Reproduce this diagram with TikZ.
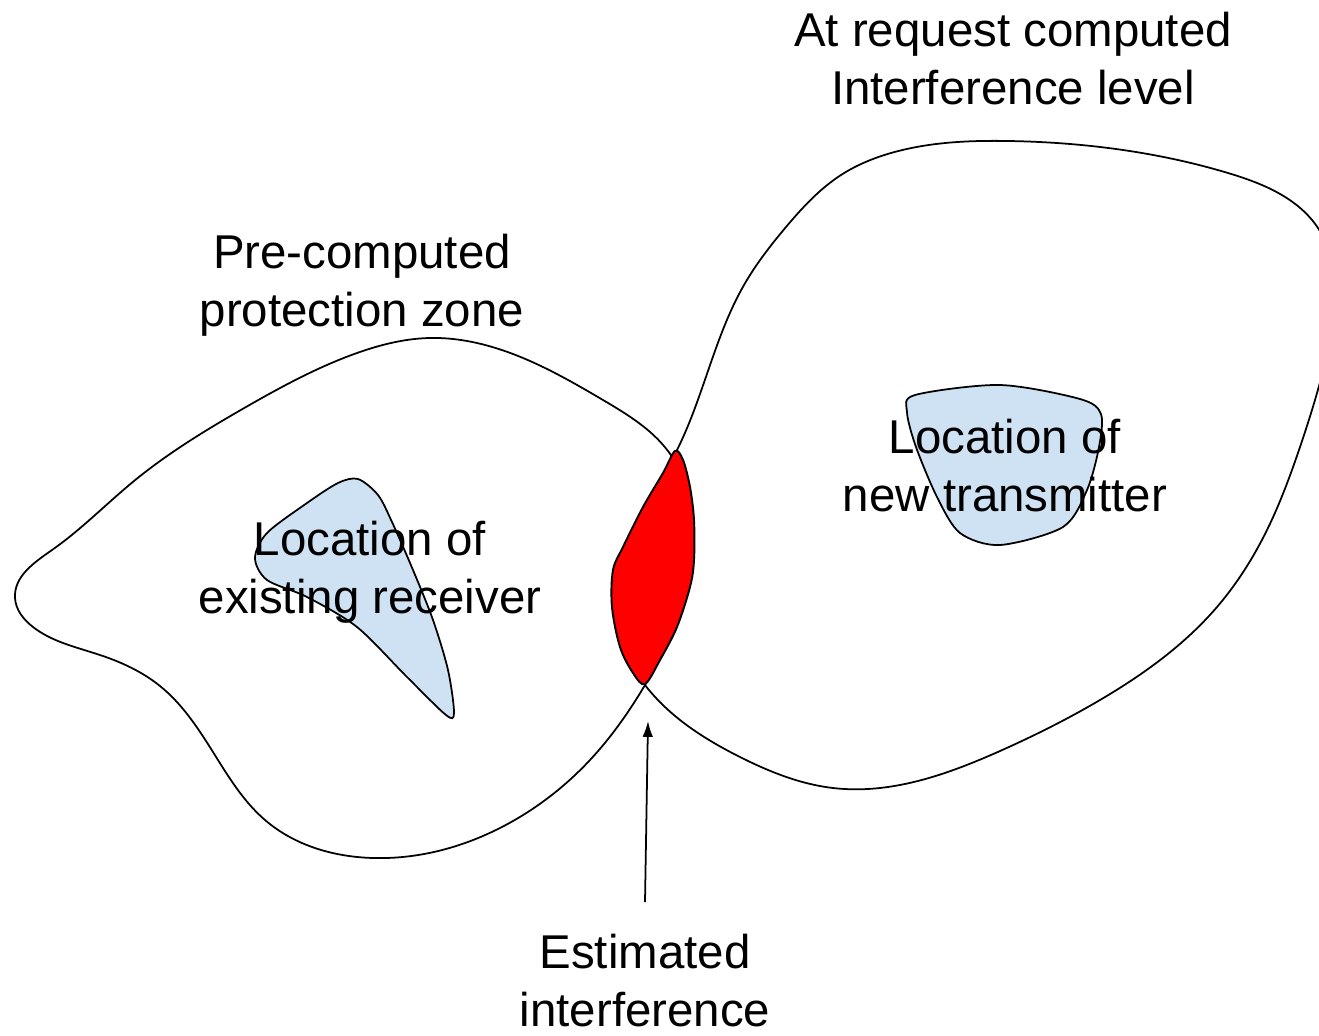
\documentclass[tikz,border=0pt]{standalone}
\usepackage{fontspec}
\setmainfont{Liberation Sans}
\usetikzlibrary{arrows.meta,hobby}
\definecolor{zoneblue}{HTML}{CFE2F3}
\definecolor{hotred}{HTML}{FF0000}
\begin{document}
\begin{tikzpicture}[x=0.02cm,y=-0.02cm,
  zone/.style={draw=black,line width=1pt,use Hobby shortcut,closed=true},
  blob/.style={draw=black,fill=zoneblue,line width=1pt},
  lens/.style={draw=black,fill=hotred,line width=1.1pt},
  lbl/.style={align=center,inner sep=0pt,font=\fontsize{27}{33}\selectfont},
  pointer/.style={-{Latex[length=9pt,width=6pt]},line width=1pt}]
\useasboundingbox (0,0) rectangle (1319,1035);
\clip (0,0) rectangle (1319,1035);
% pre-computed protection zone
\draw[zone] (15,598) .. (33,627) .. (100,655) .. (160,686) .. (213,752)
  .. (265,820) .. (373,858) .. (513,821) .. (590,760) .. (645,685)
  .. (690,575) .. (668,451) .. (603,400) .. (513,354) .. (429,338)
  .. (357,353) .. (246,407) .. (134,481) .. (52,550);
% interference level zone
\draw[zone] (645,685) .. (740,757) .. (833,788) .. (1000,751) .. (1100,700)
  .. (1217,607) .. (1267,530) .. (1300,447) .. (1328,350) .. (1318,228)
  .. (1228,173) .. (1123,150) .. (1009,141) .. (891,153) .. (841,175)
  .. (786,227) .. (744,285) .. (676,452) .. (614,590);
% receiver location
\draw[blob] plot[smooth cycle,tension=0.5] coordinates {
  (358,479) (378,495) (392,522) (413,570) (433,620) (448,670) (454,713)
  (446,715) (407,677) (357,627) (307,597) (267,580) (255,558) (267,533)
  (307,503) (338,483)};
% transmitter location
\draw[blob] plot[smooth cycle,tension=0.5] coordinates {
  (915,395) (1000,385) (1080,399) (1101,414) (1099,447) (1087,490)
  (1063,527) (1000,545) (960,533) (937,497) (916,447) (907,412)};
% estimated interference lens
\draw[lens] plot[smooth cycle,tension=0.55] coordinates {
  (675,451) (683,460) (690,487) (694,520) (694,560) (690,587) (677,627)
  (660,660) (645,684) (633,673) (620,647) (612,607) (613,570) (623,547)
  (643,507) (663,473)};
% labels
\node[lbl] (tl) at (1013,59) {At request computed\\Interference level};
\node[lbl] (pl) at (362,285) {Pre-computed\\protection zone};
\node[lbl] (rl) at (370,572) {Location of\\existing receiver};
\node[lbl] (nl) at (1005,466) {Location of\\new transmitter};
\node[lbl] (el) at (645,981) {Estimated\\interference};
\coordinate (tip) at (648,721);
\coordinate (tail) at (645,902);
\draw[pointer] (tail) -- (tip);
\end{tikzpicture}
\end{document}
